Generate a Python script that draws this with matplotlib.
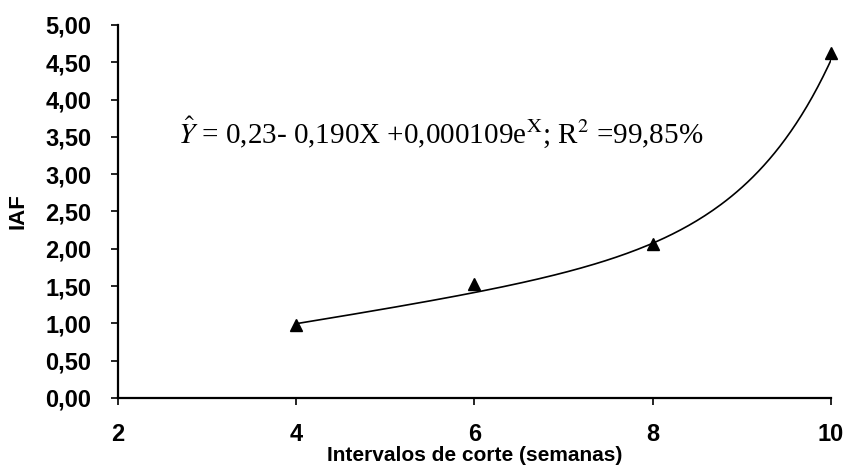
import numpy as np
import matplotlib.pyplot as plt
from matplotlib.ticker import FuncFormatter

# Leaf area index (IAF) by cutting interval
semanas = [4, 6, 8, 10]
iaf = [0.98, 1.53, 2.07, 4.62]

# fitted model: Y = b0 + b1*X + b2*e^X
b0, b1, b2 = 0.23, 0.190, 0.000109

plt.rcParams["mathtext.fontset"] = "stix"

fig = plt.figure(figsize=(8.48, 4.71), dpi=100)
ax = fig.add_axes([0.139, 0.155, 0.841, 0.792])

xs = np.linspace(4, 10, 200)
ax.plot(xs, b0 + b1 * xs + b2 * np.exp(xs), color="black", lw=1.2)
ax.plot(semanas, iaf, "^", color="black", ms=8, clip_on=False)

ax.text(2.68, 3.42,
        r"$\hat{Y}$ = 0,23- 0,190X +0,000109e$^{\mathrm{X}}$; R$^{2}$ =99,85%",
        family="Liberation Serif", fontsize=21, va="baseline")

ax.set_xlim(2, 10)
ax.set_ylim(0, 5)
ax.set_xticks([2, 4, 6, 8, 10])
ax.set_yticks(np.arange(0, 5.01, 0.5))
ax.yaxis.set_major_formatter(FuncFormatter(lambda v, p: f"{v:.2f}".replace(".", ",")))
for s in ["top", "right"]:
    ax.spines[s].set_visible(False)
for s in ["left", "bottom"]:
    ax.spines[s].set_linewidth(1.6)
ax.tick_params(direction="out", length=5, width=1.2, labelsize=17)
ax.tick_params(axis="y", pad=14)
ax.tick_params(axis="x", pad=13)
for lab in ax.get_xticklabels() + ax.get_yticklabels():
    lab.set_family("Liberation Sans")
    lab.set_fontweight("bold")

ax.set_xlabel("Intervalos de corte (semanas)", family="Liberation Sans",
              fontweight="bold", fontsize=15, labelpad=0)
ax.set_ylabel("IAF", family="Liberation Sans", fontweight="bold",
              fontsize=16, labelpad=12)

fig.savefig("out.png", dpi=100)
